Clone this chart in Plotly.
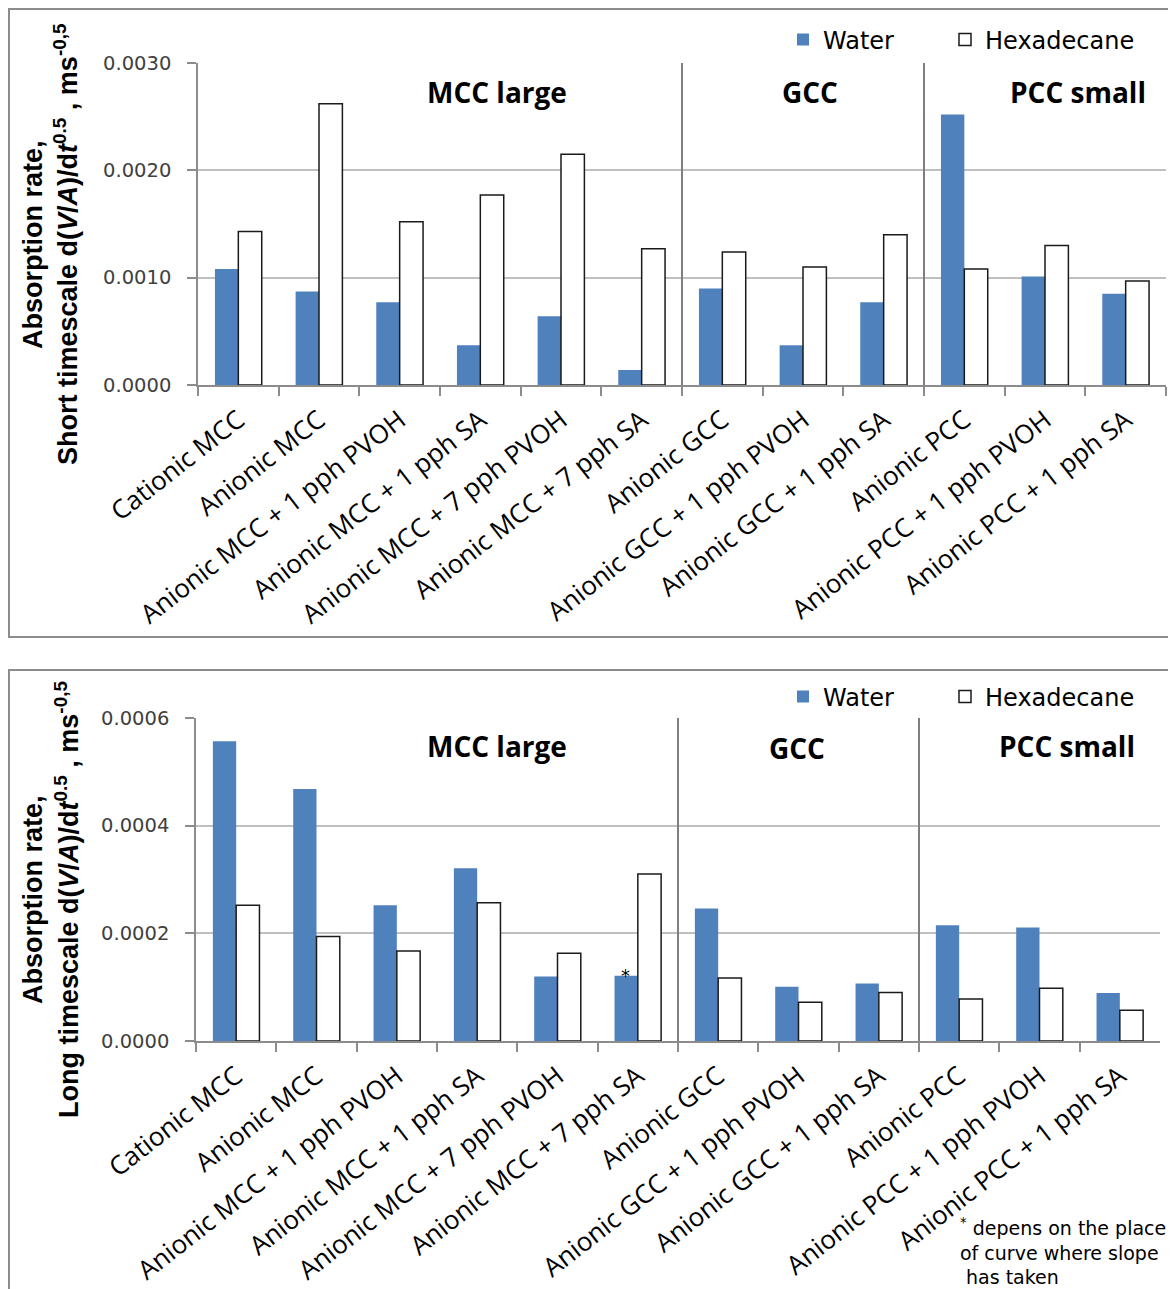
import plotly.graph_objects as go

W, H = 1176, 1289
OFF = 8  # page body margin

categories = ["Cationic MCC", "Anionic MCC", "Anionic MCC + 1 pph PVOH", "Anionic MCC + 1 pph SA",
              "Anionic MCC + 7 pph PVOH", "Anionic MCC + 7 pph SA", "Anionic GCC",
              "Anionic GCC + 1 pph PVOH", "Anionic GCC + 1 pph SA", "Anionic PCC",
              "Anionic PCC + 1 pph PVOH", "Anionic PCC + 1 pph SA"]
group_names = ["MCC large", "GCC", "PCC small"]
group_sizes = [6, 3, 3]

short_water = [0.00108, 0.00087, 0.00077, 0.00037, 0.00064, 0.00014,
               0.00090, 0.00037, 0.00077, 0.00252, 0.00101, 0.00085]
short_hex = [0.00143, 0.00262, 0.00152, 0.00177, 0.00215, 0.00127,
             0.00124, 0.00110, 0.00140, 0.00108, 0.00130, 0.00097]
long_water = [0.000557, 0.000468, 0.000252, 0.000321, 0.000120, 0.000121,
              0.000246, 0.000101, 0.000107, 0.000215, 0.000211, 0.000089]
long_hex = [0.000252, 0.000194, 0.000167, 0.000257, 0.000163, 0.000310,
            0.000117, 0.000072, 0.000090, 0.000078, 0.000098, 0.000057]

short_ticks = [0.0, 0.001, 0.002, 0.003]
long_ticks = [0.0, 0.0002, 0.0004, 0.0006]

BLUE = "#4F81BD"
GRAY = "#8c8c8c"
GRID = "#c0c0c0"

def px_x(x):
    return (x - OFF) / W

def px_y(y):
    return 1 - (y - OFF) / H

fig = go.Figure()
for xa, ya, lgw, lgh, water, hexa in [("x", "y", "legend", "legend3", short_water, short_hex),
                                      ("x2", "y2", "legend2", "legend4", long_water, long_hex)]:
    fig.add_trace(go.Bar(x=categories, y=water, name="Water", xaxis=xa, yaxis=ya, legend=lgw,
                         showlegend=True, marker=dict(color=BLUE, line=dict(width=0))))
    fig.add_trace(go.Bar(x=categories, y=hexa, name="Hexadecane", xaxis=xa, yaxis=ya, legend=lgh,
                         showlegend=True, marker=dict(color="white", line=dict(color="#1a1a1a", width=1.5))))

xcommon = dict(type="category", tickson="boundaries", ticks="outside", ticklen=9, tickwidth=1.5,
               tickcolor=GRAY, showline=True, linecolor=GRAY, linewidth=1.5, tickangle=-38,
               tickfont=dict(family="Open Sans", size=26, color="black"), showgrid=False,
               automargin=False, ticklabelstandoff=8)
ycommon = dict(showgrid=True, gridcolor=GRID, gridwidth=1.5, showline=True, linecolor=GRAY,
               linewidth=1.5, ticks="outside", ticklen=9, tickwidth=1.5, tickcolor=GRAY,
               tickfont=dict(family="DejaVu Sans", size=19.5, color="#404040"),
               tickformat=".4f", zeroline=False, ticklabelstandoff=12, automargin=False)

leg_font = dict(family="DejaVu Sans", size=24, color="black")

def leg(xp, yp):
    return dict(orientation="h", x=px_x(xp), y=px_y(yp), xanchor="left", yanchor="middle",
                font=leg_font, bgcolor="rgba(0,0,0,0)")

fig.update_layout(
    width=W, height=H, autosize=False, showlegend=True,
    margin=dict(l=0, r=0, t=0, b=0, autoexpand=False),
    paper_bgcolor="white", plot_bgcolor="white",
    barmode="group", bargap=0.42, bargroupgap=0,
    xaxis=dict(domain=[px_x(198), px_x(1166)], anchor="y", **xcommon),
    yaxis=dict(domain=[px_y(385), px_y(63)], anchor="x", range=[0, 0.003], tickvals=short_ticks, **ycommon),
    xaxis2=dict(domain=[px_x(196), px_x(1160)], anchor="y2", **xcommon),
    yaxis2=dict(domain=[px_y(1041), px_y(718)], anchor="x2", range=[0, 0.0006], tickvals=long_ticks, **ycommon),
    legend=leg(783, 40),
    legend3=leg(945, 40),
    legend2=leg(783, 697),
    legend4=leg(945, 697),
)

shapes = []
# frames
shapes.append(dict(type="rect", xref="paper", yref="paper", x0=px_x(9), x1=1.02, y0=px_y(637), y1=px_y(9),
                   line=dict(color=GRAY, width=2), fillcolor="rgba(0,0,0,0)", layer="below"))
shapes.append(dict(type="rect", xref="paper", yref="paper", x0=px_x(9), x1=1.02, y0=-0.02, y1=px_y(670),
                   line=dict(color=GRAY, width=2), fillcolor="rgba(0,0,0,0)", layer="below"))
# group dividers
bounds = []
acc = 0
for s in group_sizes[:-1]:
    acc += s
    bounds.append(acc - 0.5)
for b in bounds:
    shapes.append(dict(type="line", xref="x", yref="y", x0=b, x1=b, y0=-0.00019, y1=0.003,
                       line=dict(color="#7f7f7f", width=2)))
    shapes.append(dict(type="line", xref="x2", yref="y2", x0=b, x1=b, y0=-0.00003, y1=0.0006,
                       line=dict(color="#7f7f7f", width=2)))
fig.update_layout(shapes=shapes)

ann = []
title_font = dict(family="Liberation Sans", size=27, color="black")
titles = [
    ("<b>Absorption rate,</b>", 33, 245),
    ("<b>Short timescale d(<i>V</i>/<i>A</i>)/d<i>t</i><sup>0.5</sup> , ms<sup>-0,5</sup></b>", 66, 245),
    ("<b>Absorption rate,</b>", 33, 900),
    ("<b>Long timescale d(<i>V</i>/<i>A</i>)/d<i>t</i><sup>0.5</sup> , ms<sup>-0,5</sup></b>", 67, 900),
]
for t, cx, cy in titles:
    ann.append(dict(text=t, xref="paper", yref="paper", x=px_x(cx), y=px_y(cy),
                    textangle=-90, showarrow=False, font=title_font, xanchor="center", yanchor="middle"))

grp_font = dict(family="Open Sans", size=28, color="black")
for name, (cx, cy) in zip(group_names, [(497, 92), (810, 92), (1078, 92)]):
    ann.append(dict(text=f"<b>{name}</b>", xref="paper", yref="paper", x=px_x(cx), y=px_y(cy),
                    showarrow=False, font=grp_font, xanchor="center", yanchor="middle"))
for name, (cx, cy) in zip(group_names, [(497, 746), (797, 748), (1067, 746)]):
    ann.append(dict(text=f"<b>{name}</b>", xref="paper", yref="paper", x=px_x(cx), y=px_y(cy),
                    showarrow=False, font=grp_font, xanchor="center", yanchor="middle"))

# asterisk on long-timescale water bar
star_idx = 5
ann.append(dict(text="*", xref="x2", yref="y2", x=categories[star_idx], y=long_water[star_idx],
                xshift=-12, yshift=-12, showarrow=False, font=dict(family="DejaVu Sans", size=18, color="black"),
                xanchor="center", yanchor="bottom"))
ann.append(dict(text="<sup>*</sup> depens on the place<br>of curve where slope<br>&nbsp;has taken",
                xref="paper", yref="paper", x=px_x(958), y=px_y(1213), xanchor="left", yanchor="top",
                align="left", showarrow=False, font=dict(family="DejaVu Sans", size=19, color="black")))
fig.update_layout(annotations=ann)

fig.write_html("out.html")
